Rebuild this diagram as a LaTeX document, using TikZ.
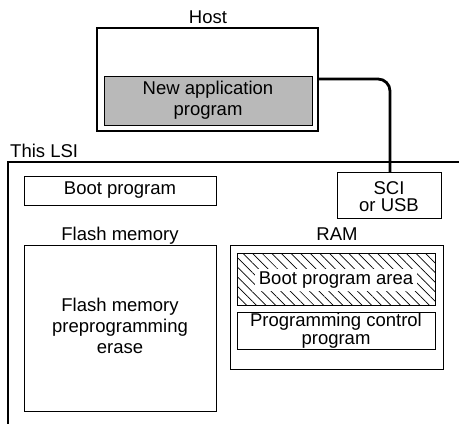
\documentclass[tikz,border=0pt]{standalone}
\usepackage{fontspec}
\setmainfont{Liberation Sans}
\usetikzlibrary{patterns.meta}
\begin{document}
\begin{tikzpicture}[x=1pt,y=-1pt,
  txt/.style={font=\fontsize{18.5}{21}\selectfont, align=center, inner sep=0pt},
  tight/.style={font=\fontsize{18.5}{17.5}\selectfont, align=center, inner sep=0pt},
  thinbox/.style={draw, line width=0.9pt},
  thickbox/.style={draw, line width=2.6pt}]
\useasboundingbox (0,0) rectangle (459,424);
% Host
\draw[thickbox] (97,28) rectangle (318,131);
\coordinate (hostE) at (318,79);
\node[txt, anchor=base] (hostlbl) at (208,23) {Host};
\fill[gray!55] (104,76) rectangle (312,125);
\draw[thinbox] (104,76) rectangle (312,125);
\node[txt] (newapp) at (208,100.5) {New application\\program};
% LSI frame
\coordinate (lsiR) at (462,162);
\coordinate (lsiB) at (8,426);
\draw[line width=2.6pt] (lsiR) -| (lsiB);
\node[txt, anchor=base west] (lsilbl) at (10,157) {This LSI};
% Boot program
\draw[thinbox] (24,176) rectangle (216,205);
\node[txt] (boot) at (120,190.5) {Boot program};
% SCI
\draw[thinbox] (337,172) rectangle (441,218);
\coordinate (sciN) at (390,172);
\node[tight] (sci) at (389,196.5) {SCI\\or USB};
% Connector
\draw[line width=2.8pt, rounded corners=12pt] (hostE) -| (sciN);
% Flash memory
\node[txt, anchor=base] (flashlbl) at (120,240) {Flash memory};
\draw[thinbox] (24,245) rectangle (216,411);
\node[txt] (flash) at (120,326) {Flash memory\\preprogramming\\erase};
% RAM
\node[txt, anchor=base] (ramlbl) at (337,240) {RAM};
\draw[thinbox] (230,245) rectangle (443,369);
\fill[pattern={Lines[angle=-45,distance=6.8pt,line width=0.7pt]}] (237,253) rectangle (435,305);
\draw[thinbox] (237,253) rectangle (435,305);
\node[txt, fill=white, inner xsep=4pt, inner ysep=3pt] (bootarea) at (336,280) {Boot program area};
\draw[thinbox] (237,312) rectangle (435,349);
\node[tight] (pcp) at (336,330.5) {Programming control\\program};
\end{tikzpicture}
\end{document}
